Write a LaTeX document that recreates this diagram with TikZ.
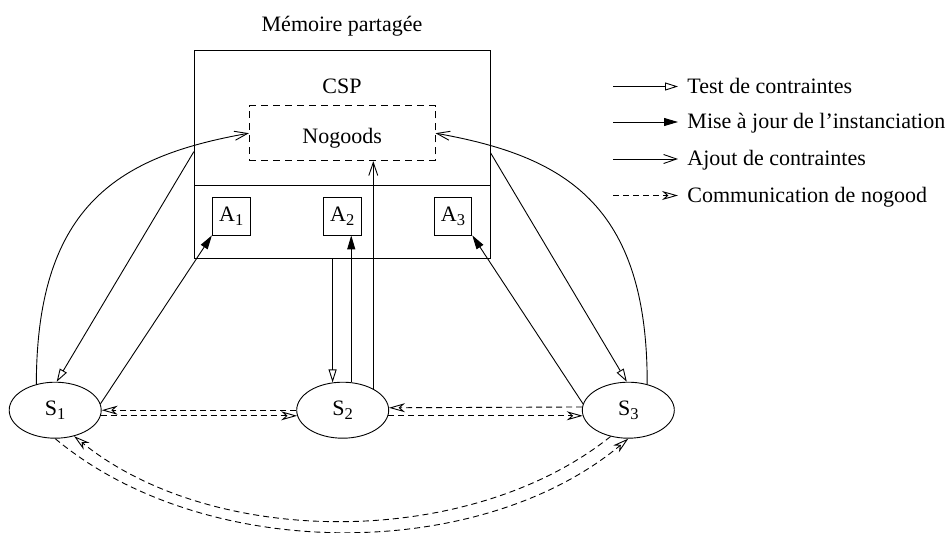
\documentclass[tikz,border=0pt]{standalone}
\usepackage{fontspec}
\setmainfont{Liberation Serif}
\usetikzlibrary{arrows.meta,shapes.geometric,calc}
% index digit for solver and slot names
\newcommand\idx[1]{\raisebox{-3.8pt}{\fontsize{16.5}{17}\selectfont #1}}

\begin{document}
\begin{tikzpicture}[x=1pt,y=-1pt,line width=0.9pt,
  every node/.style={font=\fontsize{22}{26}\selectfont,inner sep=0pt},
  box/.style={draw,rectangle},
  agent/.style={draw,ellipse,minimum width=92pt,minimum height=56pt},
  testarr/.style={-{Triangle[open,length=13pt,width=8pt]}},
  majarr/.style={-{Triangle[length=14pt,width=8pt]}},
  ajoutarr/.style={-{Straight Barb[length=13pt,width=9pt]}},
  ngline/.style={dash pattern=on 6pt off 4pt},
  ngarr/.style={ngline,-{Stealth[open,length=16pt,width=9pt,inset=5pt]}},
]
\useasboundingbox (0,0) rectangle (951,533);

% shared memory block
\node[anchor=base] (title) at (342,31.7) {Mémoire partagée};
\node[box,minimum width=295.7pt,minimum height=208.3pt] (mem) at (342.15,154.15) {};
\coordinate (divL) at (194.3,185.7);
\coordinate (divR) at (490,185.7);
\draw (divL) -- (divR);
\node[anchor=base] (csp) at (342,93.3) {CSP};
\node[box,dash pattern=on 7pt off 5pt,minimum width=185.7pt,minimum height=55pt] (ng) at (342.2,133.2) {};
\node[anchor=base] (ngtxt) at (342.2,143) {Nogoods};

% instantiation slots
\node[box,minimum width=37.7pt,minimum height=37.3pt] (A1) at (231.2,216.3) {A\idx{1}};
\node[box,minimum width=37.7pt,minimum height=37.3pt] (A2) at (342.2,216.3) {A\idx{2}};
\node[box,minimum width=37.7pt,minimum height=37.3pt] (A3) at (453,216.3) {A\idx{3}};

% solvers
\node[agent] (S1) at (55.2,410.2) {S\idx{1}};
\node[agent] (S2) at (342.7,410.2) {S\idx{2}};
\node[agent] (S3) at (628.3,410.2) {S\idx{3}};

% constraint additions towards the nogood store
\draw[ajoutarr] (S1.126) .. controls (36.7,203) and (121,156) .. (ng.west);
\draw[ajoutarr] (S3.54) .. controls (647.7,203) and (563.4,156) .. (ng.east);
\draw[ajoutarr] (S2.35) -- (S2.35 |- ng.south);

% constraint tests
\draw[testarr] ([yshift=2.5pt]mem.west) -- (S1.87);
\draw[testarr] ([yshift=1.5pt]mem.east) -- (S3.93);
\draw[testarr] (mem.south -| S2.110) -- (S2.110);

% instantiation updates
\draw[majarr] (S1.8) -- (A1.south west);
\draw[majarr] (S3.172) -- (A3.south east);
\draw[majarr] (S2.73) -- (S2.73 |- A2.south);

% nogood communication between neighbours
\draw[ngarr] (S2.180) -- (S1.0);
\draw[ngarr] (S1.-7.6) -- (S2.187.6);
\draw[ngarr] (S3.176.25) -- (S2.3.75);
\draw[ngarr] (S2.-7.6) -- (S3.187.6);

% nogood communication between S1 and S3
\draw[ngarr] (S1.south) .. controls (204,563) and (479,563) .. (S3.south);
\draw[ngarr] (S3.-124) .. controls (470,549) and (214,549) .. (S1.-54);

% legend
\coordinate (l1a) at (613,86.5);  \coordinate (l1b) at (678,86.5);
\coordinate (l2a) at (613,122);   \coordinate (l2b) at (678,122);
\coordinate (l3a) at (613,159);   \coordinate (l3b) at (678,159);
\coordinate (l4a) at (613,195.5); \coordinate (l4b) at (678,195.5);
\draw[testarr] (l1a) -- (l1b);
\draw[majarr] (l2a) -- (l2b);
\draw[ajoutarr] (l3a) -- (l3b);
\draw[ngarr] (l4a) -- (l4b);
\node[anchor=base west] (t1) at (687,93) {Test de contraintes};
\node[anchor=base west] (t2) at (687,128.5) {Mise à jour de l’instanciation};
\node[anchor=base west] (t3) at (687,165.5) {Ajout de contraintes};
\node[anchor=base west] (t4) at (687,202) {Communication de nogood};
\end{tikzpicture}
\end{document}
